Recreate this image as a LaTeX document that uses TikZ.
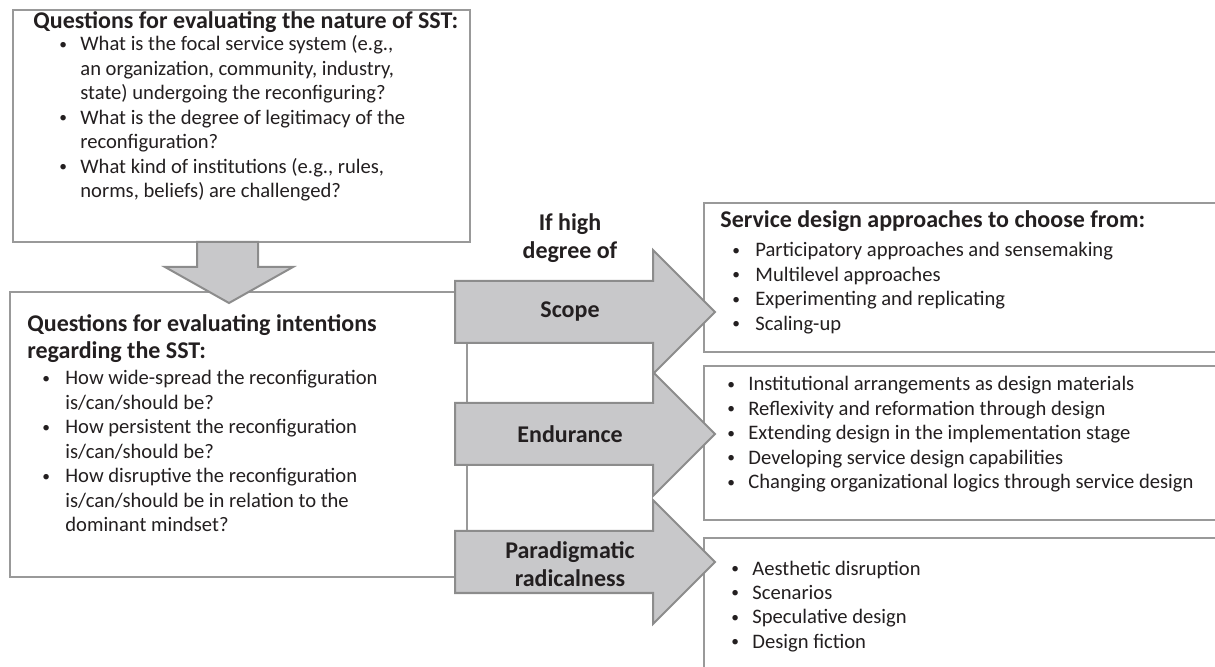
\documentclass[tikz,border=0pt]{standalone}
\usepackage{fontspec}
\usepackage{graphicx}
\setmainfont{Carlito}

\definecolor{framegray}{HTML}{999999}
\definecolor{arrowgray}{HTML}{C8C8CA}
\definecolor{edgegray}{HTML}{8C8C8C}
\definecolor{ink}{HTML}{231F20}

\tikzset{
  panel/.style={draw=framegray, line width=1pt, fill=white},
  blockarrow/.style={draw=edgegray, line width=1pt, fill=arrowgray},
  heading/.style={anchor=base west, align=left, inner sep=0pt, text=ink,
    font=\bfseries\fontsize{12}{13.75}\selectfont},
  bullets/.style={anchor=base west, inner sep=0pt, text=ink,
    font=\fontsize{10.3}{12.25}\selectfont},
  arrowlabel/.style={align=center, inner sep=0pt, text=ink,
    font=\bfseries\fontsize{12}{14.25}\selectfont},
}
\newcommand{\bl}{\raisebox{0.2ex}{\scalebox{0.75}{\textbullet}}}

\begin{document}
\begin{tikzpicture}[x=0.5pt, y=-0.5pt]
    \useasboundingbox (0,0) rectangle (1215,667);
    \clip (0,0) rectangle (1215,667);

    % Boxes on the right, running off the page
    \draw[panel] (704,203) rectangle (1240,352);
    \draw[panel] (704,366) rectangle (1240,520);
    \draw[panel] (704,538) rectangle (1240,700);

    % Boxes on the left
    \draw[panel] (13,10) rectangle (470,242);
    \draw[panel] (10,292) rectangle (467,577);

    % Down arrow between the left boxes
    \draw[blockarrow] (197,242) -- (258,242) -- (258,267) -- (293,267)
        -- (229,303) -- (165,267) -- (197,267) -- cycle;

    % Three block arrows to the right
    \foreach \y in {312, 434, 562} {
        \draw[blockarrow] (455,\y-31) -- (653,\y-31) -- (653,\y-62) -- (715,\y)
            -- (653,\y+62) -- (653,\y+31) -- (455,\y+31) -- cycle;
    }

    % Labels on the arrows
    \node[arrowlabel] (ifhigh) at (570,238) {If high\\degree of};
    \node[arrowlabel] (scope) at (570,312) {Scope};
    \node[arrowlabel] (endur) at (570,434) {Endurance};
    \node[arrowlabel] (radic) at (570,564) {Paradigmatic\\radicalness};

    % Nature of the SST
    \node[heading] (nathead) at (33,29) {Questions for evaluating the nature of SST:};
    \node[bullets] (natlist) at (59,51) {\begin{tabular}[t]{@{}p{10.5pt}@{}l@{}}
        \bl & What is the focal service system (e.g.,\\
            & an organization, community, industry,\\
            & state) undergoing the reconfiguring?\\
        \bl & What is the degree of legitimacy of the\\
            & reconfiguration?\\
        \bl & What kind of institutions (e.g., rules,\\
            & norms, beliefs) are challenged?
    \end{tabular}};

    % Intentions regarding the SST (base sits on the last line)
    \node[heading] (inthead) at (27,359) {Questions for evaluating intentions\\regarding the SST:};
    \node[bullets] (intlist) at (42,385) {\begin{tabular}[t]{@{}p{11.5pt}@{}l@{}}
        \bl & How wide-spread the reconfiguration\\
            & is/can/should be?\\
        \bl & How persistent the reconfiguration\\
            & is/can/should be?\\
        \bl & How disruptive the reconfiguration\\
            & is/can/should be in relation to the\\
            & dominant mindset?
    \end{tabular}};

    % Design approaches
    \node[heading] (apphead) at (720,228) {Service design approaches to choose from:};
    \node[bullets] (scopelist) at (732,257) {\begin{tabular}[t]{@{}p{11.5pt}@{}l@{}}
        \bl & Participatory approaches and sensemaking\\
        \bl & Multilevel approaches\\
        \bl & Experimenting and replicating\\
        \bl & Scaling-up
    \end{tabular}};
    \node[bullets] (endurlist) at (727,391) {\begin{tabular}[t]{@{}p{10.5pt}@{}l@{}}
        \bl & Institutional arrangements as design materials\\
        \bl & Reflexivity and reformation through design\\
        \bl & Extending design in the implementation stage\\
        \bl & Developing service design capabilities\\
        \bl & Changing organizational logics through service design
    \end{tabular}};
    \node[bullets] (radiclist) at (731,575) {\begin{tabular}[t]{@{}p{10.5pt}@{}l@{}}
        \bl & Aesthetic disruption\\
        \bl & Scenarios\\
        \bl & Speculative design\\
        \bl & Design fiction
    \end{tabular}};
\end{tikzpicture}
\end{document}
